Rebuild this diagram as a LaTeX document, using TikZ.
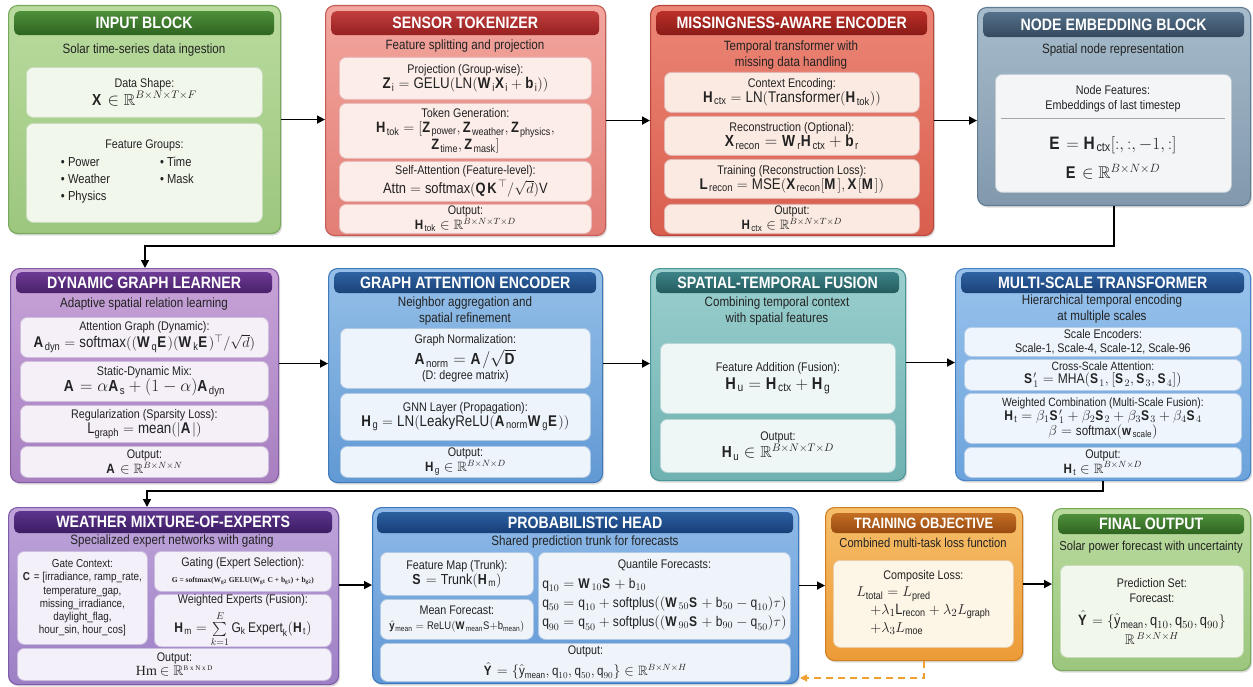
\documentclass[tikz,border=0pt]{standalone}
\usepackage{amsmath,amssymb}
\usepackage{fontspec}
\setmainfont{Liberation Sans}[FakeStretch=0.86]
\newfontfamily\serifalt{Liberation Serif}
\usetikzlibrary{arrows.meta,shadows}

\newcommand{\mktheme}[7]{%
	\definecolor{#1Top}{HTML}{#2}\definecolor{#1Bot}{HTML}{#3}%
	\definecolor{#1Line}{HTML}{#4}\definecolor{#1HdA}{HTML}{#5}%
	\definecolor{#1HdB}{HTML}{#6}\definecolor{#1Pan}{HTML}{#7}}
\mktheme{grn}{B9DB9E}{9CC67E}{78A95A}{4E8F3A}{2E6420}{F2F7EC}
\mktheme{sen}{F2A69E}{E27E76}{C65B55}{C23E3E}{962020}{FCEDE8}
\mktheme{mis}{EC8676}{D95E4E}{B8453A}{BA3028}{8A1A16}{FBEAE2}
\mktheme{emb}{A6BCCB}{8299AD}{5F7B92}{54708A}{34495E}{F3F5F7}
\mktheme{dgl}{C7A3D8}{A77FC0}{875CA6}{6C3A94}{48206A}{F5EFF8}
\mktheme{gae}{94BFE8}{6199D4}{3E79B8}{2E62A2}{1A4278}{EDF4FB}
\mktheme{stf}{9ACFCE}{6FB1B1}{4A9595}{3D8387}{235A5E}{EFF7F6}
\mktheme{mst}{98C2EC}{6CA3DC}{4884C4}{2E62A2}{1A4278}{EFF5FC}
\mktheme{moe}{BEA4DA}{9D7FC5}{7E5BA9}{5D358C}{3C1C64}{F4F0F9}
\mktheme{ph}{8FBAE8}{5F97D5}{3B77BC}{2C60A0}{173E77}{EFF4FB}
\mktheme{to}{F6BE6A}{EC9B36}{CF7F22}{C36E24}{984A10}{FDF5E6}
\definecolor{txt}{HTML}{222222}
\definecolor{fbOrange}{HTML}{F0A030}

\newcommand{\ttlfont}{\fontsize{16.5}{18}\selectfont\bfseries}
\newcommand{\subfont}{\fontsize{13.5}{15.5}\selectfont}
\newcommand{\panfont}{\fontsize{12.5}{15}\selectfont}
\newcommand{\fm}[2][15.5]{{\fontsize{#1}{#1}\selectfont$#2$}}
\newcommand{\bv}[1]{\mathbf{#1}}
\newcommand{\tx}[1]{\text{#1}}
\newcommand{\inR}[1]{\in\mathbb{R}^{#1}}

\begin{document}
\begin{tikzpicture}[x=1pt,y=-1pt,
	blockbox/.style={rounded corners=9pt,line width=1.1pt,anchor=north west,inner sep=0pt,
		top color=#1Top,bottom color=#1Bot,draw=#1Line,
		drop shadow={opacity=0.28,shadow xshift=1.5pt,shadow yshift=-2pt}},
	titlebar/.style={rounded corners=5pt,anchor=north west,inner sep=0pt,
		top color=#1HdA,bottom color=#1HdB,text=white,font=\ttlfont},
	panel/.style={rounded corners=7pt,anchor=north west,inner sep=1pt,fill=#1Pan,
		draw=#1Line!40!white,line width=0.8pt,align=center,font=\panfont,text=txt},
	subtext/.style={align=center,font=\subfont,text=txt,inner sep=0pt},
	flow/.style={line width=1.6pt,-{Triangle[length=8pt,width=8pt]}},
	feedback/.style={line width=1.3pt,draw=fbOrange,dash pattern=on 7pt off 5pt,
		-{Triangle[length=7pt,width=7pt]}},
	]
	\useasboundingbox (0,0) rectangle (1253,687);

	\node[blockbox=grn,minimum width=272,minimum height=228] (input) at (8,5) {};
	\node[titlebar=grn,minimum width=260,minimum height=24] (inputTtl) at (14,11) {INPUT BLOCK};
	\node[subtext] (inputSub) at (144,50) {Solar time-series data ingestion};
	\node[panel=grn,minimum width=236,minimum height=50] (inShape) at (26,67)
		{Data Shape:\\\fm[16]{\bv{X}\inR{B\times N\times T\times F}}};
	\node[panel=grn,minimum width=236,minimum height=99] (inGroups) at (26,123)
		{Feature Groups:\\[2pt]{\fontsize{13}{15}\selectfont\renewcommand{\arraystretch}{1.15}%
		\begin{tabular}{@{}l@{\hspace{50pt}}l@{\hspace{34pt}}}
		\textbullet\ Power & \textbullet\ Time\\
		\textbullet\ Weather & \textbullet\ Mask\\
		\textbullet\ Physics & \\
		\end{tabular}}};

	\node[blockbox=sen,minimum width=280,minimum height=230] (sensor) at (325,5) {};
	\node[titlebar=sen,minimum width=268,minimum height=24] (sensorTtl) at (331,11) {SENSOR TOKENIZER};
	\node[subtext] (sensorSub) at (465,46) {Feature splitting and projection};
	\node[panel=sen,minimum width=252,minimum height=42] (senProj) at (339,57)
		{Projection (Group-wise):\\\fm{\bv{Z}_\tx{i}=\tx{GELU}(\tx{LN}(\bv{W}_\tx{i}\bv{X}_\tx{i}+\bv{b}_\tx{i}))}};
	\node[panel=sen,minimum width=252,minimum height=55] (senTok) at (339,103)
		{Token Generation:\\\fm[15]{\bv{H}_\tx{tok}=[\bv{Z}_\tx{power},\bv{Z}_\tx{weather},\bv{Z}_\tx{physics},}\\\fm[15]{\bv{Z}_\tx{time},\bv{Z}_\tx{mask}]}};
	\node[panel=sen,minimum width=252,minimum height=40] (senAttn) at (339,161)
		{Self-Attention (Feature-level):\\[2pt]\fm[15]{\tx{Attn}=\tx{softmax}(\bv{QK}^\top/\sqrt{d})\tx{V}}};
	\node[panel=sen,minimum width=252,minimum height=29] (senOut) at (339,204)
		{Output:\\\fm[13.5]{\bv{H}_\tx{tok}\inR{B\times N\times T\times D}}};

	\node[blockbox=mis,minimum width=283,minimum height=230] (missing) at (650,5) {};
	\node[titlebar=mis,minimum width=271,minimum height=24] (missingTtl) at (656,11) {MISSINGNESS-AWARE ENCODER};
	\node[subtext] (missingSub) at (791,55) {Temporal transformer with\\missing data handling};
	\node[panel=mis,minimum width=255,minimum height=40] (misCtx) at (664,72)
		{Context Encoding:\\\fm{\bv{H}_\tx{ctx}=\tx{LN}(\tx{Transformer}(\bv{H}_\tx{tok}))}};
	\node[panel=mis,minimum width=255,minimum height=39] (misRecon) at (664,116)
		{Reconstruction (Optional):\\\fm[16]{\bv{X}_\tx{recon}=\bv{W}_\tx{r}\bv{H}_\tx{ctx}+\bv{b}_\tx{r}}};
	\node[panel=mis,minimum width=255,minimum height=39] (misTrain) at (664,159)
		{Training (Reconstruction Loss):\\\fm{\bv{L}_\tx{recon}=\tx{MSE}(\bv{X}_\tx{recon}[\bv{M}],\bv{X}[\bv{M}])}};
	\node[panel=mis,minimum width=255,minimum height=29] (misOut) at (664,204)
		{Output:\\\fm[13.5]{\bv{H}_\tx{ctx}\inR{B\times N\times T\times D}}};

	\node[blockbox=emb,minimum width=273,minimum height=198] (nodeemb) at (977,7) {};
	\node[titlebar=emb,minimum width=261,minimum height=25] (nodeembTtl) at (983,12) {NODE EMBEDDING BLOCK};
	\node[subtext] (nodeembSub) at (1113,50) {Spatial node representation};
	\node[panel=emb,minimum width=236,minimum height=118] (embPanel) at (995,74) {};
	\node[subtext,font=\panfont] (embFeat) at (1113,99) {Node Features:\\Embeddings of last timestep};
	\draw[gray!70,line width=0.8pt] (1001,118) -- (1225,118);
	\node[subtext] (embEq) at (1113,145) {\fm[18]{\bv{E}=\bv{H}_\tx{ctx}[:,:,-1,:]}};
	\node[subtext] (embDim) at (1113,172) {\fm[17]{\bv{E}\inR{B\times N\times D}}};

	\node[blockbox=dgl,minimum width=268,minimum height=214] (dgl) at (10,268) {};
	\node[titlebar=dgl,minimum width=256,minimum height=21] (dglTtl) at (16,272) {DYNAMIC GRAPH LEARNER};
	\node[subtext] (dglSub) at (144,304) {Adaptive spatial relation learning};
	\node[panel=dgl,minimum width=248,minimum height=40] (dglAtt) at (20,317)
		{Attention Graph (Dynamic):\\\fm{\bv{A}_\tx{dyn}=\tx{softmax}((\bv{W}_\tx{q}\bv{E})(\bv{W}_\tx{k}\bv{E})^\top/\sqrt{d})}};
	\node[panel=dgl,minimum width=248,minimum height=40] (dglMix) at (20,361)
		{Static-Dynamic Mix:\\\fm[16]{\bv{A}=\alpha\bv{A}_\tx{s}+(1-\alpha)\bv{A}_\tx{dyn}}};
	\node[panel=dgl,minimum width=248,minimum height=37] (dglReg) at (20,405)
		{Regularization (Sparsity Loss):\\\fm{\tx{L}_\tx{graph}=\tx{mean}(|\bv{A}|)}};
	\node[panel=dgl,minimum width=248,minimum height=31] (dglOut) at (20,446)
		{Output:\\\fm[13.5]{\bv{A}\inR{B\times N\times N}}};

	\node[blockbox=gae,minimum width=274,minimum height=214] (gae) at (328,268) {};
	\node[titlebar=gae,minimum width=262,minimum height=21] (gaeTtl) at (334,272) {GRAPH ATTENTION ENCODER};
	\node[subtext] (gaeSub) at (465,311) {Neighbor aggregation and\\spatial refinement};
	\node[panel=gae,minimum width=250,minimum height=60] (gaeNorm) at (340,328)
		{Graph Normalization:\\[2pt]\fm[16]{\bv{A}_\tx{norm}=\bv{A}/\sqrt{\bv{D}}}\\(D: degree matrix)};
	\node[panel=gae,minimum width=250,minimum height=47] (gaeGnn) at (340,393)
		{GNN Layer (Propagation):\\\fm{\bv{H}_\tx{g}=\tx{LN}(\tx{LeakyReLU}(\bv{A}_\tx{norm}\bv{W}_\tx{g}\bv{E}))}};
	\node[panel=gae,minimum width=250,minimum height=31] (gaeOut) at (340,446)
		{Output:\\\fm[13.5]{\bv{H}_\tx{g}\inR{B\times N\times D}}};

	\node[blockbox=stf,minimum width=255,minimum height=212] (stf) at (650,268) {};
	\node[titlebar=stf,minimum width=243,minimum height=21] (stfTtl) at (656,272) {SPATIAL-TEMPORAL FUSION};
	\node[subtext] (stfSub) at (777,311) {Combining temporal context\\with spatial features};
	\node[panel=stf,minimum width=235,minimum height=70] (stfAdd) at (660,343)
		{Feature Addition (Fusion):\\[3pt]\fm[17]{\bv{H}_\tx{u}=\bv{H}_\tx{ctx}+\bv{H}_\tx{g}}};
	\node[panel=stf,minimum width=235,minimum height=53] (stfOut) at (660,419)
		{Output:\\\fm[16]{\bv{H}_\tx{u}\inR{B\times N\times T\times D}}};

	\node[blockbox=mst,minimum width=295,minimum height=212] (mst) at (955,268) {};
	\node[titlebar=mst,minimum width=283,minimum height=21] (mstTtl) at (961,272) {MULTI-SCALE TRANSFORMER};
	\node[subtext] (mstSub) at (1102,309) {Hierarchical temporal encoding\\at multiple scales};
	\node[panel=mst,minimum width=277,minimum height=29,font=\fontsize{12.5}{13.5}\selectfont] (mstEnc) at (964,327)
		{Scale Encoders:\\Scale-1, Scale-4, Scale-12, Scale-96};
	\node[panel=mst,minimum width=277,minimum height=31,font=\fontsize{12}{13}\selectfont] (mstCross) at (964,359)
		{Cross-Scale Attention:\\\fm[14]{\bv{S}_1'=\tx{MHA}(\bv{S}_1,[\bv{S}_2,\bv{S}_3,\bv{S}_4])}};
	\node[panel=mst,minimum width=277,minimum height=50,font=\fontsize{12}{13}\selectfont] (mstComb) at (964,393)
		{Weighted Combination (Multi-Scale Fusion):\\\fm[14]{\bv{H}_\tx{t}=\beta_1\bv{S}_1'+\beta_2\bv{S}_2+\beta_3\bv{S}_3+\beta_4\bv{S}_4}\\\fm[13.5]{\beta=\tx{softmax}(\bv{w}_\tx{scale})}};
	\node[panel=mst,minimum width=277,minimum height=30] (mstOut) at (964,447)
		{Output:\\\fm[13.5]{\bv{H}_\tx{t}\inR{B\times N\times D}}};

	\node[blockbox=moe,minimum width=330,minimum height=177] (moe) at (8,507) {};
	\node[titlebar=moe,minimum width=318,minimum height=22] (moeTtl) at (14,511) {WEATHER MIXTURE-OF-EXPERTS};
	\node[subtext] (moeSub) at (172,541) {Specialized expert networks with gating};
	\node[panel=moe,minimum width=130,minimum height=93,font=\fontsize{11.5}{13.3}\selectfont] (moeGate) at (17,551)
		{Gate Context:\\$\bv{C}$ = [irradiance, ramp\_rate,\\temperature\_gap,\\missing\_irradiance,\\daylight\_flag,\\hour\_sin, hour\_cos]};
	\node[panel=moe,minimum width=177,minimum height=40] (moeGating) at (154,551)
		{Gating (Expert Selection):\\[1pt]{\serifalt\bfseries\fontsize{7.5}{9}\selectfont G = softmax(W\textsubscript{g2} GELU(W\textsubscript{g1} C + b\textsubscript{g1}) + b\textsubscript{g2})}};
	\node[panel=moe,minimum width=177,minimum height=51,inner sep=0pt] (moeExp) at (154,594)
		{Weighted Experts (Fusion):\\[4pt]\fm[14]{\bv{H}_\tx{m}=\sum\limits_{k=1}^{E}\tx{G}_\tx{k}\,\tx{Expert}_\tx{k}(\bv{H}_\tx{t})}};
	\node[panel=moe,minimum width=314,minimum height=32] (moeOut) at (17,648)
		{Output:\\[-1pt]{\serifalt\fontsize{14}{14}\selectfont Hm} \fm[14]{\in\mathbb{R}^{\text{\serifalt\scriptsize B x N x D}}}};

	\node[blockbox=ph,minimum width=426,minimum height=176] (ph) at (372,507) {};
	\node[titlebar=ph,minimum width=416,minimum height=21] (phTtl) at (377,512) {PROBABILISTIC HEAD};
	\node[subtext] (phSub) at (585,542) {Shared prediction trunk for forecasts};
	\node[panel=ph,minimum width=153,minimum height=43] (phTrunk) at (380,552)
		{Feature Map (Trunk):\\\fm[14.5]{\bv{S}=\tx{Trunk}(\bv{H}_\tx{m})}};
	\node[panel=ph,minimum width=153,minimum height=40] (phMean) at (380,599)
		{Mean Forecast:\\\fm[11]{\hat{\bv{y}}_\tx{mean}=\tx{ReLU}(\bv{W}_\tx{mean}\tx{S}{+}\tx{b}_\tx{mean})}};
	\node[panel=ph,minimum width=252,minimum height=87] (phQuant) at (538,552)
		{Quantile Forecasts:\\[3pt]{\fontsize{14}{16}\selectfont\renewcommand{\arraystretch}{1.2}%
		\begin{tabular}{@{}l@{}}
		$\tx{q}_{10}=\bv{W}_{10}\bv{S}+\tx{b}_{10}$\\
		$\tx{q}_{50}=\tx{q}_{10}+\tx{softplus}((\bv{W}_{50}\bv{S}+\tx{b}_{50}-\tx{q}_{10})\tau)$\\
		$\tx{q}_{90}=\tx{q}_{50}+\tx{softplus}((\bv{W}_{90}\bv{S}+\tx{b}_{90}-\tx{q}_{50})\tau)$\\
		\end{tabular}}};
	\node[panel=ph,minimum width=410,minimum height=38,inner sep=0pt] (phOut) at (380,643)
		{Output:\\[4pt]\fm[13.5]{\hat{\bv{Y}}=\{\hat{\tx{y}}_\tx{mean},\tx{q}_{10},\tx{q}_{50},\tx{q}_{90}\}\inR{B\times N\times H}}};

	\node[blockbox=to,minimum width=197,minimum height=153] (trainobj) at (825,507) {};
	\node[titlebar=to,minimum width=185,minimum height=20,font=\fontsize{15}{16}\selectfont\bfseries] (trainobjTtl) at (831,513) {TRAINING OBJECTIVE};
	\node[subtext,font=\fontsize{13}{15}\selectfont] (trainobjSub) at (923,543) {Combined multi-task loss function};
	\node[panel=to,minimum width=180,minimum height=87] (toLoss) at (833,560)
		{Composite Loss:\\[1pt]{\fontsize{15}{17}\selectfont\renewcommand{\arraystretch}{1.05}%
		\begin{tabular}{@{}l@{}}
		$L_\tx{total}=L_\tx{pred}$\\
		\hspace{14pt}$+\lambda_1\tx{L}_\tx{recon}+\lambda_2L_\tx{graph}$\\
		\hspace{14pt}$+\lambda_3L_\tx{moe}$\\
		\end{tabular}}};

	\node[blockbox=grn,minimum width=198,minimum height=162] (final) at (1052,508) {};
	\node[titlebar=grn,minimum width=186,minimum height=20] (finalTtl) at (1058,514) {FINAL OUTPUT};
	\node[subtext,font=\fontsize{13}{15}\selectfont] (finalSub) at (1151,547) {Solar power forecast with uncertainty};
	\node[panel=grn,minimum width=183,minimum height=92] (finPred) at (1060,565)
		{Prediction Set:\\Forecast:\\[8pt]\fm[15]{\hat{\bv{Y}}=\{\hat{\tx{y}}_\tx{mean},\tx{q}_{10},\tx{q}_{50},\tx{q}_{90}\}}\\[3pt]\fm[14]{\mathbb{R}^{\,B\times N\times H}}};

	\draw[flow] (input.east) -- (input.east -| sensor.west);
	\draw[flow] (sensor.east) -- (sensor.east -| missing.west);
	\draw[flow] (missing.east) -- (missing.east -| nodeemb.west);
	\coordinate (turnA) at (145,246);
	\draw[flow] (nodeemb.south) |- (turnA) -- (turnA |- dgl.north);
	\draw[flow] ([yshift=12pt]dgl.east) -- ([yshift=12pt]dgl.east -| gae.west);
	\draw[flow] ([yshift=12pt]gae.east) -- ([yshift=12pt]gae.east -| stf.west);
	\draw[flow] ([yshift=12pt]stf.east) -- ([yshift=12pt]stf.east -| mst.west);
	\coordinate (turnB) at (147,491);
	\draw[flow] (mst.south) |- (turnB) -- (turnB |- moe.north);
	\draw[flow] ([yshift=11pt]moe.east) -- ([yshift=11pt]moe.east -| ph.west);
	\draw[flow] ([yshift=10pt]ph.east) -- ([yshift=10pt]ph.east -| trainobj.west);
	\draw[flow] (trainobj.east) -- (trainobj.east -| final.west);
	\coordinate (fbEnd) at (800,678);
	\draw[feedback] (trainobj.south) |- (fbEnd);
\end{tikzpicture}
\end{document}
